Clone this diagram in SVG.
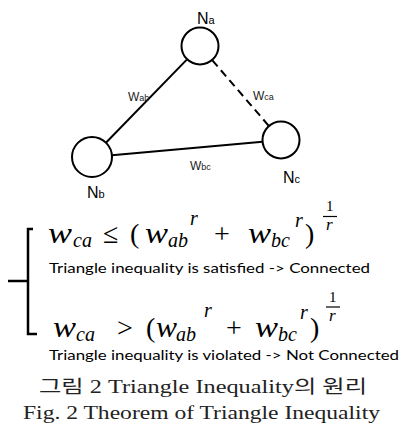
<svg xmlns="http://www.w3.org/2000/svg" width="404" height="445" viewBox="0 0 404 445">
<style>
.node{fill:#fff;stroke:#000;stroke-width:2}
.edge{stroke:#000;stroke-width:2;fill:none}
.nl{font-family:"Liberation Sans",Arial,sans-serif;font-size:16px;fill:#000}
.nls{font-size:11px}
.el{font-family:"Liberation Sans",Arial,sans-serif;font-size:12px;fill:#222}
.els{font-size:9px}
.m{font-family:"Liberation Serif","Times New Roman",serif;font-style:italic;font-size:29px;fill:#000}
.mn{font-family:"Liberation Serif","Times New Roman",serif;font-style:normal;font-size:28px;fill:#000}
.sub{font-size:20px}
.d{font-family:Lato,"Liberation Sans",sans-serif;font-size:14px;fill:#000}
.cap{font-family:"Liberation Serif","Noto Sans CJK KR",serif;font-size:18px;fill:#222}
.br{stroke:#000;stroke-width:2.5;fill:none}
</style>
<rect width="404" height="445" fill="#fff"/>
<g id="connectors">
<line class="edge" x1="186.8" y1="59.6" x2="105.9" y2="142.7"/>
<line class="edge" x1="111.9" y1="155.2" x2="262.6" y2="141.7"/>
<line class="edge" x1="212.4" y1="60.4" x2="268.9" y2="126" stroke-dasharray="8 5"/>
<text class="el" x="128" y="101">W<tspan class="els">ab</tspan></text>
<text class="el" x="253" y="100">W<tspan class="els">ca</tspan></text>
<text class="el" x="190" y="170">W<tspan class="els">bc</tspan></text>
</g>
<g id="Na">
<circle class="node" cx="200" cy="46" r="18.5"/>
<text class="nl" x="197" y="24">N<tspan class="nls">a</tspan></text>
</g>
<g id="Nb">
<circle class="node" cx="92" cy="157" r="20"/>
<text class="nl" x="87" y="198">N<tspan class="nls">b</tspan></text>
</g>
<g id="Nc">
<circle class="node" cx="281" cy="140" r="18.5"/>
<text class="nl" x="283" y="183">N<tspan class="nls">c</tspan></text>
</g>
<g id="bracket">
<path class="br" d="M33,229 H28 V334 H37"/>
<path class="br" d="M8,281 H28"/>
</g>
<g id="formula1">
<text class="m" x="48" y="243" textLength="24" lengthAdjust="spacingAndGlyphs">w</text>
<text class="m sub" x="73" y="247">ca</text>
<text class="mn" x="103" y="243">≤</text>
<text class="mn" x="130" y="243">(</text>
<text class="m" x="145" y="243" textLength="23" lengthAdjust="spacingAndGlyphs">w</text>
<text class="m sub" x="168" y="247">ab</text>
<text class="m sub" x="190" y="225">r</text>
<text class="mn" x="214" y="243">+</text>
<text class="m" x="248" y="243" textLength="23" lengthAdjust="spacingAndGlyphs">w</text>
<text class="m sub" x="271" y="247">bc</text>
<text class="m sub" x="295" y="227">r</text>
<text class="mn" x="305" y="243">)</text>
<text class="mn" x="326" y="211" style="font-size:15px">1</text>
<line x1="323" y1="216.5" x2="337" y2="216.5" stroke="#000" stroke-width="1.2"/>
<text class="m" x="326" y="230" style="font-size:17px">r</text>
</g>
<text class="d" x="49" y="273" textLength="321" lengthAdjust="spacingAndGlyphs">Triangle inequality is satisfied -&gt; Connected</text>
<g id="formula2">
<text class="m" x="53" y="337" textLength="23" lengthAdjust="spacingAndGlyphs">w</text>
<text class="m sub" x="76" y="341">ca</text>
<text class="mn" x="117" y="337">&gt;</text>
<text class="mn" x="146" y="337">(</text>
<text class="m" x="156" y="337" textLength="21" lengthAdjust="spacingAndGlyphs">w</text>
<text class="m sub" x="176" y="341">ab</text>
<text class="m sub" x="204" y="317">r</text>
<text class="mn" x="226" y="337">+</text>
<text class="m" x="255" y="337" textLength="23" lengthAdjust="spacingAndGlyphs">w</text>
<text class="m sub" x="278" y="341">bc</text>
<text class="m sub" x="300" y="319">r</text>
<text class="mn" x="310" y="337">)</text>
<text class="mn" x="329" y="302" style="font-size:15px">1</text>
<line x1="326" y1="307" x2="340" y2="307" stroke="#000" stroke-width="1.2"/>
<text class="m" x="329" y="321" style="font-size:17px">r</text>
</g>
<text class="d" x="49" y="360" textLength="350" lengthAdjust="spacingAndGlyphs">Triangle inequality is violated -&gt; Not Connected</text>
<text class="cap" x="39" y="393" textLength="328" lengthAdjust="spacingAndGlyphs">그림 2 Triangle Inequality의 원리</text>
<text class="cap" x="23" y="419" textLength="357" lengthAdjust="spacingAndGlyphs">Fig. 2 Theorem of Triangle Inequality</text>
</svg>
